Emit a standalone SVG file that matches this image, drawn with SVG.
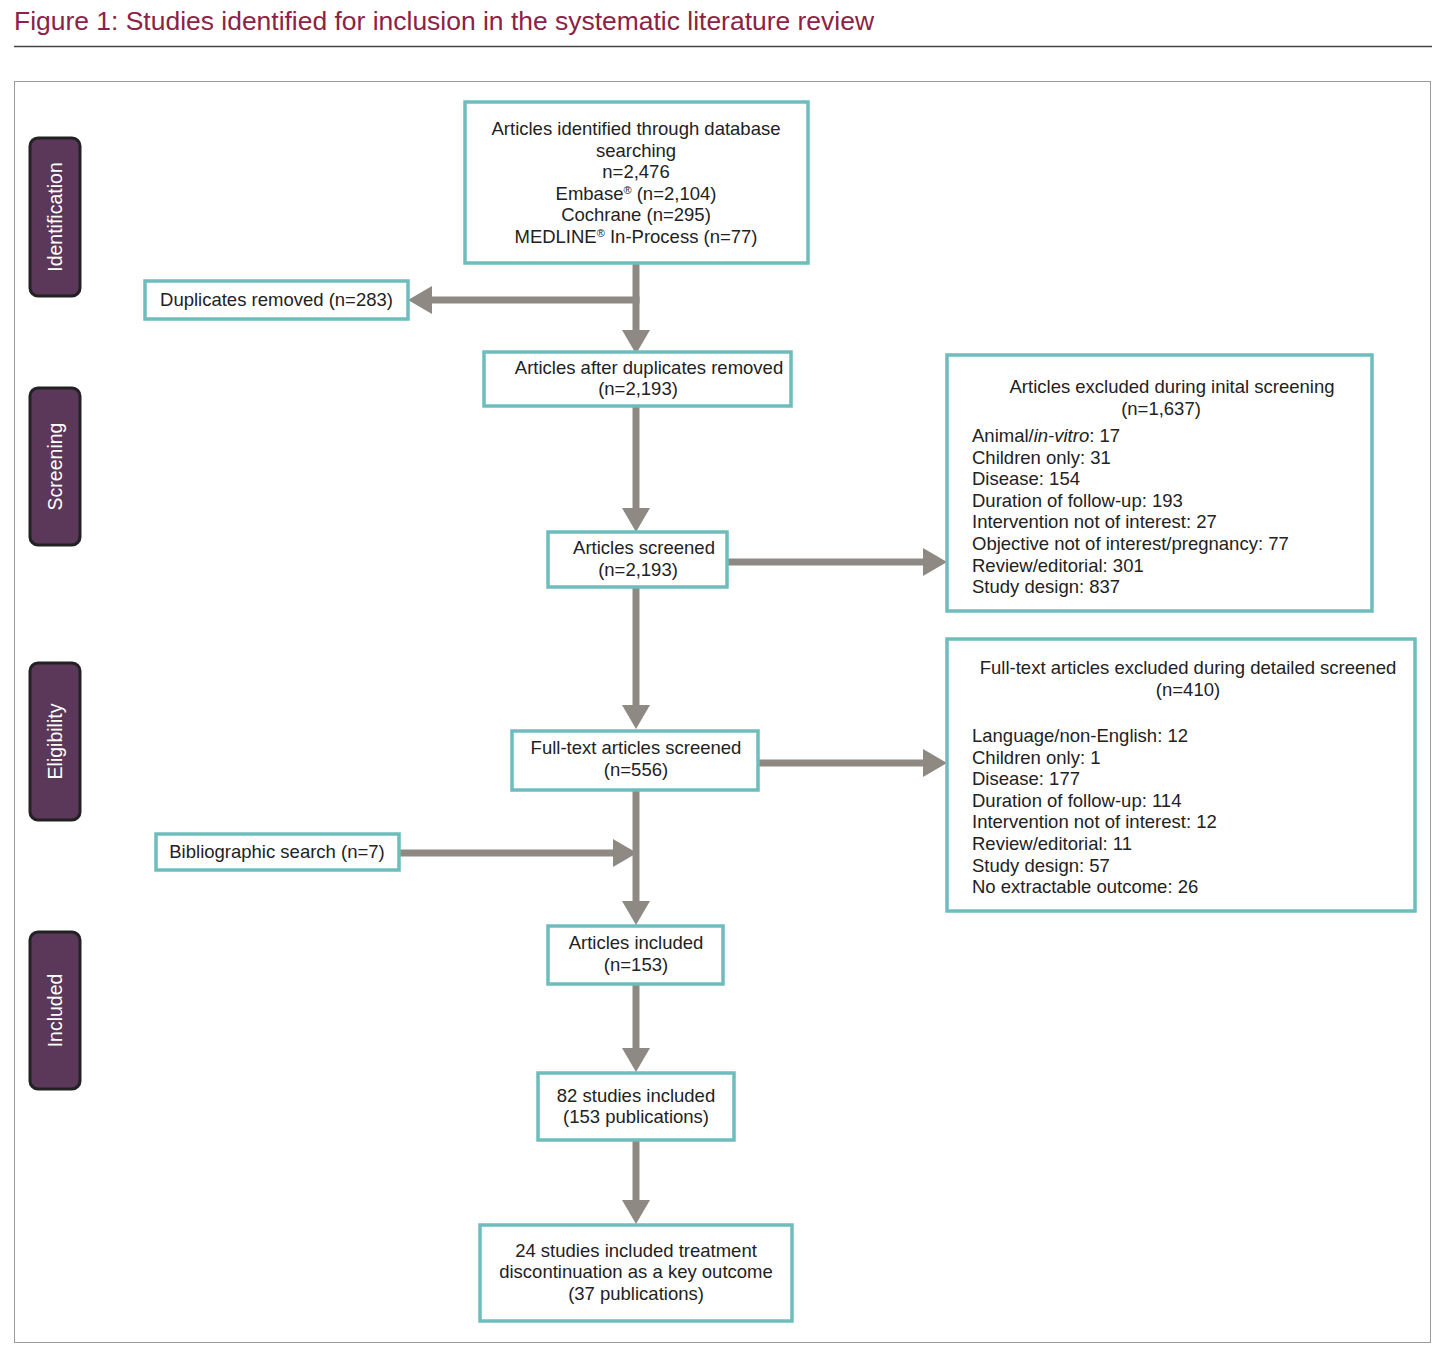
<svg xmlns="http://www.w3.org/2000/svg" width="1448" height="1360" viewBox="0 0 1448 1360">
<style>
.title{font-family:"Liberation Sans",Arial,sans-serif;font-size:26px;fill:#8b2346}
.box{fill:#ffffff;stroke:#6dbdbd;stroke-width:3.5}
.stage{fill:#5b3759;stroke:#222222;stroke-width:3}
.stx{font-family:"Liberation Sans",Arial,sans-serif;font-size:19.5px;fill:#ffffff;text-anchor:middle}
.t{font-family:"Liberation Sans",Arial,sans-serif;font-size:18.5px;fill:#222222}
.c{text-anchor:middle}
.conn line{stroke:#8e8a83;stroke-width:7;fill:none}
.sup{font-size:11px}
</style>
<defs>
<marker id="ah" markerUnits="userSpaceOnUse" markerWidth="24" markerHeight="28" refX="0" refY="14" orient="auto" viewBox="0 0 24 28">
<path d="M0,0 L24,14 L0,28 z" fill="#8e8a83"/>
</marker>
</defs>
<rect x="0" y="0" width="1448" height="1360" fill="#ffffff"/>
<text class="title" x="14" y="30" textLength="860" lengthAdjust="spacingAndGlyphs">Figure 1: Studies identified for inclusion in the systematic literature review</text>
<line x1="14" y1="46.5" x2="1432" y2="46.5" stroke="#444444" stroke-width="1.5"/>
<rect x="14.5" y="81.5" width="1416" height="1261" fill="none" stroke="#9a9a9a" stroke-width="1"/>

<g id="stage-identification">
<rect class="stage" x="30" y="138" width="50" height="158" rx="8"/>
<text class="stx" transform="translate(61.5,217) rotate(-90)">Identification</text>
</g>
<g id="stage-screening">
<rect class="stage" x="30" y="388" width="50" height="157" rx="8"/>
<text class="stx" transform="translate(61.5,466.5) rotate(-90)">Screening</text>
</g>
<g id="stage-eligibility">
<rect class="stage" x="30" y="663" width="50" height="157" rx="8"/>
<text class="stx" transform="translate(61.5,741.5) rotate(-90)">Eligibility</text>
</g>
<g id="stage-included">
<rect class="stage" x="30" y="932" width="50" height="157" rx="8"/>
<text class="stx" transform="translate(61.5,1010.5) rotate(-90)">Included</text>
</g>

<g class="conn" id="connectors">
<line x1="636" y1="263" x2="636" y2="330" marker-end="url(#ah)"/>
<line x1="639.5" y1="300" x2="432" y2="300" marker-end="url(#ah)"/>
<line x1="636" y1="406" x2="636" y2="508" marker-end="url(#ah)"/>
<line x1="727" y1="562" x2="923" y2="562" marker-end="url(#ah)"/>
<line x1="636" y1="587" x2="636" y2="705" marker-end="url(#ah)"/>
<line x1="758" y1="763" x2="923" y2="763" marker-end="url(#ah)"/>
<line x1="636" y1="790" x2="636" y2="901" marker-end="url(#ah)"/>
<line x1="399" y1="853" x2="613" y2="853" marker-end="url(#ah)"/>
<line x1="636" y1="984" x2="636" y2="1048" marker-end="url(#ah)"/>
<line x1="636" y1="1140" x2="636" y2="1200" marker-end="url(#ah)"/>
</g>

<g id="n-identified">
<rect class="box" x="465" y="102" width="343" height="161"/>
<text class="t c" x="636" y="135">Articles identified through database</text>
<text class="t c" x="636" y="156.5">searching</text>
<text class="t c" x="636" y="178">n=2,476</text>
<text class="t c" x="636" y="199.5">Embase<tspan class="sup" dy="-6">®</tspan><tspan dy="6"> (n=2,104)</tspan></text>
<text class="t c" x="636" y="221">Cochrane (n=295)</text>
<text class="t c" x="636" y="242.5">MEDLINE<tspan class="sup" dy="-6">®</tspan><tspan dy="6"> In-Process (n=77)</tspan></text>
</g>

<g id="n-duplicates">
<rect class="box" x="145" y="281" width="263" height="38"/>
<text class="t c" x="276.5" y="306">Duplicates removed (n=283)</text>
</g>

<g id="n-after-dup">
<rect class="box" x="484" y="352" width="307" height="54"/>
<text class="t c" x="649" y="374">Articles after duplicates removed</text>
<text class="t c" x="638" y="395">(n=2,193)</text>
</g>

<g id="n-excluded-initial">
<rect class="box" x="947" y="355" width="425" height="256"/>
<text class="t c" x="1172" y="393">Articles excluded during inital screening</text>
<text class="t c" x="1161" y="415">(n=1,637)</text>
<text class="t" x="972" y="442">Animal/<tspan font-style="italic">in-vitro</tspan>: 17</text>
<text class="t" x="972" y="463.6">Children only: 31</text>
<text class="t" x="972" y="485.2">Disease: 154</text>
<text class="t" x="972" y="506.8">Duration of follow-up: 193</text>
<text class="t" x="972" y="528.4">Intervention not of interest: 27</text>
<text class="t" x="972" y="550">Objective not of interest/pregnancy: 77</text>
<text class="t" x="972" y="571.6">Review/editorial: 301</text>
<text class="t" x="972" y="593.2">Study design: 837</text>
</g>

<g id="n-screened">
<rect class="box" x="548" y="532" width="179" height="55"/>
<text class="t c" x="644" y="554">Articles screened</text>
<text class="t c" x="638" y="576">(n=2,193)</text>
</g>

<g id="n-excluded-detailed">
<rect class="box" x="947" y="639" width="468" height="272"/>
<text class="t c" x="1188" y="674">Full-text articles excluded during detailed screened</text>
<text class="t c" x="1188" y="696">(n=410)</text>
<text class="t" x="972" y="742">Language/non-English: 12</text>
<text class="t" x="972" y="763.6">Children only: 1</text>
<text class="t" x="972" y="785.2">Disease: 177</text>
<text class="t" x="972" y="806.8">Duration of follow-up: 114</text>
<text class="t" x="972" y="828.4">Intervention not of interest: 12</text>
<text class="t" x="972" y="850">Review/editorial: 11</text>
<text class="t" x="972" y="871.6">Study design: 57</text>
<text class="t" x="972" y="893.2">No extractable outcome: 26</text>
</g>

<g id="n-fulltext">
<rect class="box" x="512" y="731" width="246" height="59"/>
<text class="t c" x="636" y="754">Full-text articles screened</text>
<text class="t c" x="636" y="776">(n=556)</text>
</g>

<g id="n-biblio">
<rect class="box" x="156" y="834" width="243" height="36"/>
<text class="t c" x="277" y="858">Bibliographic search (n=7)</text>
</g>

<g id="n-included">
<rect class="box" x="548" y="926" width="175" height="58"/>
<text class="t c" x="636" y="949">Articles included</text>
<text class="t c" x="636" y="971">(n=153)</text>
</g>

<g id="n-82">
<rect class="box" x="538" y="1073" width="196" height="67"/>
<text class="t c" x="636" y="1102">82 studies included</text>
<text class="t c" x="636" y="1123">(153 publications)</text>
</g>

<g id="n-24">
<rect class="box" x="480" y="1225" width="312" height="96"/>
<text class="t c" x="636" y="1257">24 studies included treatment</text>
<text class="t c" x="636" y="1278">discontinuation as a key outcome</text>
<text class="t c" x="636" y="1300">(37 publications)</text>
</g>
</svg>
